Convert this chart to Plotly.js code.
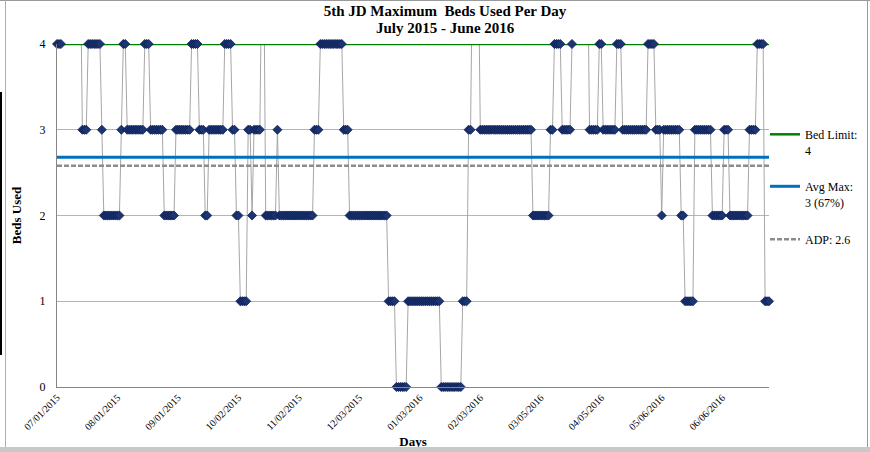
<!DOCTYPE html>
<html>
<head>
<meta charset="utf-8">
<script src="https://cdn.plot.ly/plotly-3.0.1.min.js"></script>
<style>
  html, body { margin: 0; padding: 0; background: #ffffff; }
  #wrap { position: relative; width: 870px; height: 452px; overflow: hidden; }
  #chart { position: absolute; left: 0; top: 0; width: 870px; height: 452px; }
  .frame { position: absolute; pointer-events: none; }
</style>
</head>
<body>
<div id="wrap">
  <div id="chart"></div>
  <div class="frame" style="left:0;top:0;width:870px;height:1px;background:#9a9a9a;"></div>
  <div class="frame" style="left:867px;top:0;width:1px;height:447px;background:#9a9a9a;"></div>
  <div class="frame" style="left:0;top:447px;width:870px;height:5px;background:#c8c8c8;"></div>
  <div class="frame" style="left:5px;top:0;width:1px;height:447px;background:#b0b0b0;"></div>
  <div class="frame" style="left:0;top:92px;width:2px;height:263px;background:#000000;"></div>
</div>
<script>
// ---- Data: maximum beds used per day (values above 4 run off the top of the chart) ----
const startDate = '2015-07-01';
const jul2015 = [4,4,4,5,5,5,5,5,5,5,5,5,5,3,3,3,4,4,4,4,4,4,4,3,2,2,2,2,2,2,2];
const aug2015 = [2,2,3,4,4,3,3,3,3,3,3,3,3,3,4,4,4,3,3,3,3,3,3,3,2,2,2,2,2,2,3];
const sep2015 = [3,3,3,3,3,3,3,4,4,4,4,3,3,3,2,2,3,3,3,3,3,3,3,3,4,4,4,4,3,3];
const oct2015 = [2,2,1,1,1,1,3,3,2,3,3,3,3,5,5,2,2,2,2,2,2,3,2,2,2,2,2,2,2,2,2];
const nov2015 = [2,2,2,2,2,2,2,2,2,3,3,3,4,4,4,4,4,4,4,4,4,4,4,4,3,3,3,2,2,2];
const dec2015 = [2,2,2,2,2,2,2,2,2,2,2,2,2,2,2,2,2,1,1,1,1,0,0,0,0,0,0,1,1,1,1];
const jan2016 = [1,1,1,1,1,1,1,1,1,1,1,1,1,0,0,0,0,0,0,0,0,0,0,0,1,1,1,3,3,5,5];
const feb2016 = [5,5,3,3,3,3,3,3,3,3,3,3,3,3,3,3,3,3,3,3,3,3,3,3,3,3,3,3,3];
const mar2016 = [2,2,2,2,2,2,2,2,2,3,3,4,4,4,4,3,3,3,3,3,4,5,5,5,5,5,5,5,5,3,3];
const apr2016 = [3,3,3,4,4,3,3,3,3,3,3,3,4,4,4,3,3,3,3,3,3,3,3,3,3,3,3,3,4,4];
const may2016 = [4,4,3,3,3,2,3,3,3,3,3,3,3,3,3,2,2,1,1,1,1,1,3,3,3,3,3,3,3,3,3];
const jun2016 = [2,2,2,2,2,2,3,3,3,2,2,2,2,2,2,2,2,2,2,3,3,3,3,4,4,4,4,1,1,1];

const bedLimit = 4;
const avgMax = 2.68;
const adp = 2.58;
const yMax = 4;

const tickDates = ['2015-07-01','2015-08-01','2015-09-01','2015-10-02','2015-11-02','2015-12-03',
                   '2016-01-03','2016-02-03','2016-03-05','2016-04-05','2016-05-06','2016-06-06'];
const tickLabels = ['07/01/2015','08/01/2015','09/01/2015','10/02/2015','11/02/2015','12/03/2015',
                    '01/03/2016','02/03/2016','03/05/2016','04/05/2016','05/06/2016','06/06/2016'];

// ---- Build ----
const values = [].concat(jul2015, aug2015, sep2015, oct2015, nov2015, dec2015,
                         jan2016, feb2016, mar2016, apr2016, may2016, jun2016);
const dates = values.map((v, i) => {
  const d = new Date(startDate + 'T00:00:00Z');
  d.setUTCDate(d.getUTCDate() + i);
  return d.toISOString().slice(0, 10);
});
const firstDate = dates[0];
const lastDate = dates[dates.length - 1];
const visibleMarkers = values.map(v => (v > yMax ? null : v));

const serif = 'Liberation Serif, Times New Roman, serif';

const traces = [
  { x: dates, y: values, type: 'scatter', mode: 'lines',
    line: { color: '#a6a6a6', width: 1 }, showlegend: false, hoverinfo: 'skip' },
  { x: [firstDate, lastDate], y: [bedLimit, bedLimit], type: 'scatter', mode: 'lines',
    name: 'Bed Limit:<br>4', line: { color: '#008000', width: 2.5 }, legend: 'legend', cliponaxis: false },
  { x: [firstDate, lastDate], y: [avgMax, avgMax], type: 'scatter', mode: 'lines',
    name: 'Avg Max:<br>3 (67%)', line: { color: '#0070c0', width: 3 }, legend: 'legend2' },
  { x: [firstDate, lastDate], y: [adp, adp], type: 'scatter', mode: 'lines',
    name: 'ADP: 2.6', line: { color: '#8c8c8c', width: 2.5, dash: '5px,2px' }, legend: 'legend3' },
  { x: dates, y: visibleMarkers, type: 'scatter', mode: 'markers', cliponaxis: false,
    marker: { symbol: 'diamond', size: 7, color: '#1c3570', line: { color: '#0a1c55', width: 0.8 } },
    showlegend: false }
];

const legendBase = {
  xref: 'paper', yref: 'paper', x: 1 - 4 / 712, xanchor: 'left', yanchor: 'top',
  bgcolor: 'rgba(0,0,0,0)', borderwidth: 0, valign: 'top', itemwidth: 30,
  font: { family: serif, size: 12, color: '#000' }, tracegroupgap: 0
};

const layout = {
  width: 870, height: 452,
  margin: { l: 57, r: 101, t: 44, b: 65, autoexpand: false },
  paper_bgcolor: '#ffffff', plot_bgcolor: '#ffffff',
  font: { family: serif, color: '#000' },
  title: { text: '<b>5th JD Maximum&nbsp; Beds Used Per Day</b>', font: { family: serif, size: 15, color: '#000' },
           x: 445 / 870, xanchor: 'center', xref: 'container', y: 1 - 5 / 452, yanchor: 'top', yref: 'container' },
  annotations: [
    { text: '<b>July 2015 - June 2016</b>', xref: 'paper', yref: 'paper',
      x: (445 - 57) / 712, y: 1 + (44 - 28) / 343, xanchor: 'center', yanchor: 'middle',
      showarrow: false, font: { family: serif, size: 15, color: '#000' } }
  ],
  showlegend: true,
  legend: Object.assign({}, legendBase, { y: (387 - 120) / 343 }),
  legend2: Object.assign({}, legendBase, { y: (387 - 172) / 343 }),
  legend3: Object.assign({}, legendBase, { y: (387 - 225) / 343 }),
  xaxis: {
    type: 'date', range: [firstDate, lastDate], automargin: false,
    tickmode: 'array', tickvals: tickDates, ticktext: tickLabels, tickangle: -45,
    tickfont: { family: serif, size: 10, color: '#000' },
    showgrid: false, showline: true, linecolor: '#868686', linewidth: 1,
    ticks: '', zeroline: false,
    title: { text: '<b>Days</b>', font: { family: serif, size: 13, color: '#000' } }
  },
  yaxis: {
    range: [0, yMax], tickmode: 'array', tickvals: [0, 1, 2, 3, 4], automargin: false,
    tickfont: { family: serif, size: 12, color: '#000' }, ticklabelstandoff: 8,
    showgrid: true, gridcolor: '#b4b4b4', gridwidth: 1,
    showline: true, linecolor: '#868686', linewidth: 1, zeroline: false,
    ticks: '',
    title: { text: '<b>Beds Used</b>', font: { family: serif, size: 13, color: '#000' } }
  },
  hovermode: false
};

Plotly.newPlot('chart', traces, layout, { staticPlot: true, displayModeBar: false });
</script>
</body>
</html>
